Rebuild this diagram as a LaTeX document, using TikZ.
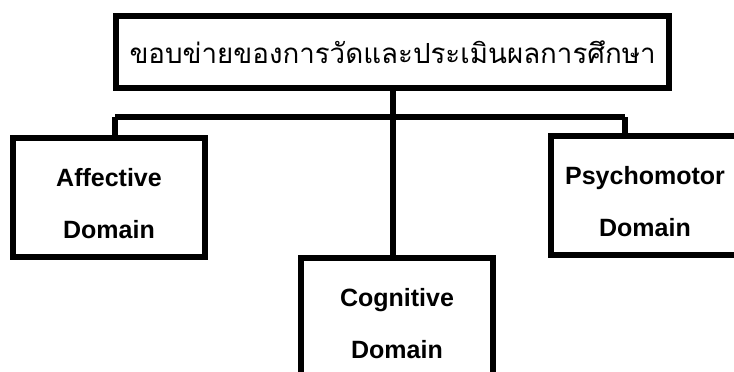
\documentclass[tikz,border=0pt]{standalone}
\usepackage{fontspec}
\setmainfont{Liberation Sans}
\newfontfamily\thaifont[Script=Thai]{Loma}
\newcommand{\dstrut}{\rule{0pt}{30pt}}
\tikzset{
  dombox/.style={draw,line width=6pt,rectangle,align=center,inner sep=0pt,
    font=\bfseries\fontsize{25}{52}\selectfont},
  bar/.style={line width=6pt}
}
\begin{document}
\begin{tikzpicture}[x=1pt,y=-1pt]
                \useasboundingbox (0,0) rectangle (734,372);
                \node [draw,line width=6pt,minimum width=553pt,minimum height=72pt,inner sep=0pt,
                  font=\thaifont\fontsize{27.7}{33}\selectfont] (title) at (392.5,52) {ขอบข่ายของการวัดและประเมินผลการศึกษา};
                \node [dombox,minimum width=192pt,minimum height=119pt] (aff) at (109,197.5) {\dstrut Affective\\Domain};
                \node [dombox,minimum width=188pt,minimum height=119pt] (psy) at (645,195.5) {\dstrut Psychomotor\\Domain};
                \node [dombox,minimum width=192pt,minimum height=119pt] (cog) at (397,317.5) {\dstrut Cognitive\\Domain};
                \coordinate (barL) at (115,117);
                \coordinate (barR) at (625,117);
                \draw [bar] (title.south) -- (title.south |- cog.north);
                \draw [bar] (barL) -- (barR);
                \draw [bar] (barL) -- (barL |- aff.north);
                \draw [bar] (barR) -- (barR |- psy.north);
            \end{tikzpicture}
\end{document}
